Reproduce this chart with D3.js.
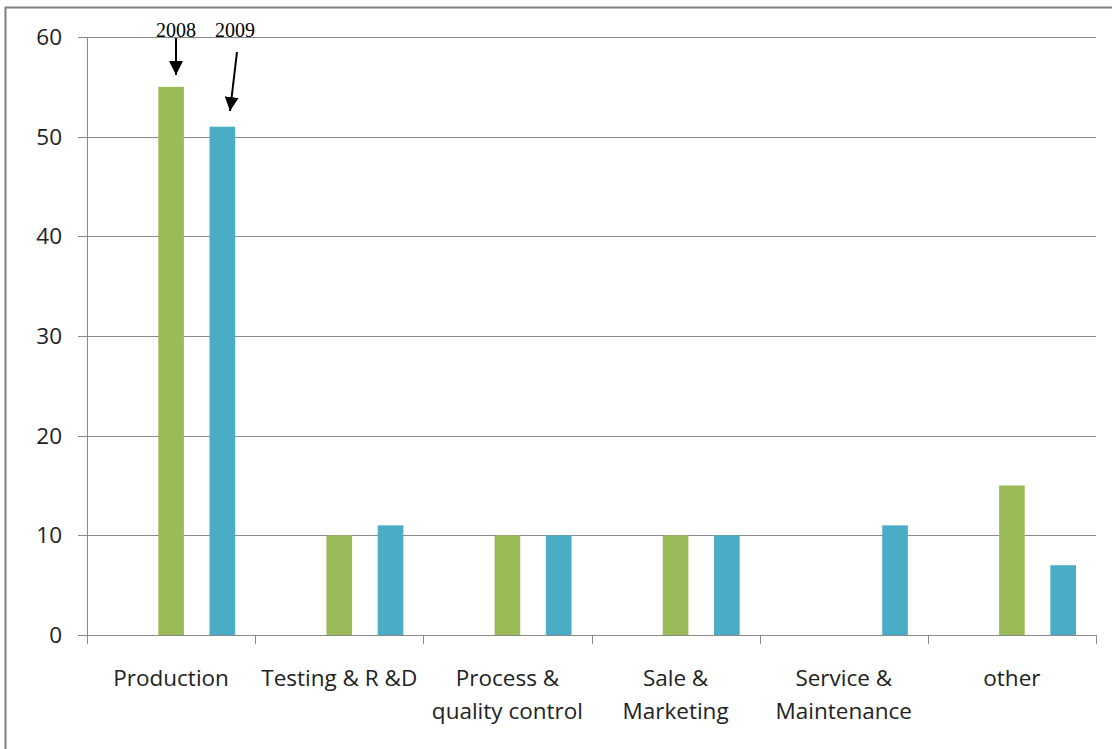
<!DOCTYPE html>
<html>
<head>
<meta charset="utf-8">
<script src="https://cdn.jsdelivr.net/npm/d3@7"></script>
<style>
  body { margin: 0; background: #fff; }
  svg { display: block; }
</style>
</head>
<body>
<svg width="1112" height="749"></svg>
<script>
// categories, each label split into display lines
const categories = ["Production", "Testing & R &D", "Process & quality control", "Sale & Marketing", "Service & Maintenance", "other"];
const labelLines = [["Production"], ["Testing & R &D"], ["Process &", "quality control"], ["Sale &", "Marketing"], ["Service &", "Maintenance"], ["other"]];
const values2008 = [55, 10, 10, 10, null, 15];
const values2009 = [51, 11, 10, 10, 11, 7];
const yTicks = [0, 10, 20, 30, 40, 50, 60];

const svg = d3.select("svg");
const plotLeft = 87, plotRight = 1096, plotTop = 37, plotBottom = 635;
const labelFont = "'Open Sans', 'Noto Sans', sans-serif";

// outer frame
svg.append("rect")
  .attr("x", 5.5).attr("y", 7.5)
  .attr("width", 1120).attr("height", 760)
  .attr("fill", "none").attr("stroke", "#7f7f7f").attr("stroke-width", 2);

const x = d3.scaleBand().domain(categories).range([plotLeft, plotRight]);
// excel cluster of 5 slots, 2008 in slot 2, 2009 in slot 4
const slot = d3.scaleBand().domain(d3.range(5)).range([20, x.bandwidth() - 20]);
const y = d3.scaleLinear().domain([0, 60]).range([plotBottom, plotTop]);

// gridlines + y ticks
svg.append("g")
  .selectAll("line")
  .data(yTicks)
  .join("line")
  .attr("x1", plotLeft - 9).attr("x2", plotRight)
  .attr("y1", d => Math.round(y(d)) + 0.5).attr("y2", d => Math.round(y(d)) + 0.5)
  .attr("stroke", "#8a8a8a").attr("stroke-width", 1);

svg.append("g")
  .selectAll("text")
  .data(yTicks)
  .join("text")
  .attr("x", 62).attr("y", d => y(d) + 8)
  .attr("text-anchor", "end")
  .attr("font-family", labelFont)
  .attr("font-size", 22.5)
  .attr("fill", "#222")
  .text(d => d);

// y axis line
svg.append("line")
  .attr("x1", plotLeft + 0.5).attr("x2", plotLeft + 0.5)
  .attr("y1", plotTop).attr("y2", plotBottom)
  .attr("stroke", "#8a8a8a");

// x category ticks
const xTickPos = categories.map(c => x(c)).concat([plotRight]);
svg.append("g")
  .selectAll("line")
  .data(xTickPos)
  .join("line")
  .attr("x1", d => Math.round(d) + 0.5).attr("x2", d => Math.round(d) + 0.5)
  .attr("y1", plotBottom).attr("y2", plotBottom + 9)
  .attr("stroke", "#8a8a8a");

// bars
const bars = [];
categories.forEach((c, i) => {
  if (values2008[i] != null) bars.push({ c, v: values2008[i], s: 2, color: "#9bbb59" });
  if (values2009[i] != null) bars.push({ c, v: values2009[i], s: 4, color: "#4bacc6" });
});
svg.append("g")
  .selectAll("rect")
  .data(bars)
  .join("rect")
  .attr("x", d => x(d.c) + slot(d.s))
  .attr("width", slot.bandwidth())
  .attr("y", d => y(d.v))
  .attr("height", d => y(0) - y(d.v))
  .attr("fill", d => d.color);

// category labels
const lab = svg.append("g")
  .attr("font-family", labelFont)
  .attr("font-size", 22.5)
  .attr("fill", "#222")
  .attr("text-anchor", "middle");
labelLines.forEach((lines, i) => {
  const cx = x(categories[i]) + x.bandwidth() / 2;
  lines.forEach((t, j) => {
    lab.append("text").attr("x", cx).attr("y", 686 + j * 33).text(t);
  });
});

// year annotations with arrows
svg.append("defs").append("marker")
  .attr("id", "ah").attr("viewBox", "0 0 10 10")
  .attr("refX", 10).attr("refY", 5)
  .attr("markerWidth", 14).attr("markerHeight", 14)
  .attr("markerUnits", "userSpaceOnUse")
  .attr("orient", "auto")
  .append("path").attr("d", "M0,0 L10,5 L0,10 Z").attr("fill", "#000");

const ann = svg.append("g")
  .attr("font-family", "'Liberation Serif', 'DejaVu Serif', serif")
  .attr("font-size", 20)
  .attr("fill", "#000");
ann.append("text").attr("x", 156).attr("y", 37).text("2008");
ann.append("text").attr("x", 215).attr("y", 37).text("2009");

svg.append("line")
  .attr("x1", 176).attr("y1", 38).attr("x2", 176).attr("y2", 75)
  .attr("stroke", "#000").attr("stroke-width", 2).attr("marker-end", "url(#ah)");
svg.append("line")
  .attr("x1", 237).attr("y1", 52).attr("x2", 230).attr("y2", 111)
  .attr("stroke", "#000").attr("stroke-width", 2).attr("marker-end", "url(#ah)");
</script>
</body>
</html>
